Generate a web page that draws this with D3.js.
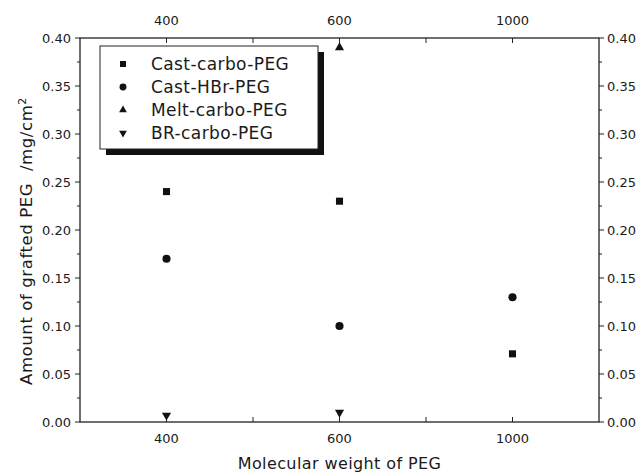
<!DOCTYPE html>
<html>
<head>
<meta charset="utf-8">
<script src="https://cdn.jsdelivr.net/npm/d3@7"></script>
<style>
body { margin: 0; background: #fff; }
text { font-family: "DejaVu Sans", "Liberation Sans", sans-serif; fill: #1a1a1a; }
</style>
</head>
<body>
<div id="chart"></div>
<script>
var categories = ["400", "600", "1000"];
var castCarbo = [0.24, 0.23, 0.071];
var castHBr = [0.17, 0.10, 0.13];
var meltCarbo = [null, 0.39, null];
var brCarbo = [0.007, 0.01, null];
var yTicks = [0, 0.05, 0.10, 0.15, 0.20, 0.25, 0.30, 0.35, 0.40];

var series = [
  {name: "Cast-carbo-PEG", values: castCarbo, sym: d3.symbolSquare, size: 50, lsize: 36, rot: 0},
  {name: "Cast-HBr-PEG", values: castHBr, sym: d3.symbolCircle, size: 52, lsize: 38, rot: 0},
  {name: "Melt-carbo-PEG", values: meltCarbo, sym: d3.symbolTriangle, size: 36, lsize: 26, rot: 0},
  {name: "BR-carbo-PEG", values: brCarbo, sym: d3.symbolTriangle, size: 36, lsize: 26, rot: 180}
];

var W = 640, H = 474;
var margin = {top: 38, right: 41, bottom: 52, left: 80},
width = W - margin.left - margin.right,
height = H - margin.top - margin.bottom;

var svg = d3.select("#chart")
  .append("svg")
  .attr("width", W)
  .attr("height", H)
  .append("g")
  .attr("transform", "translate(" + margin.left + "," + margin.top + ")");

var x = d3.scalePoint()
  .domain(categories)
  .range([0, width])
  .padding(0.5);

var y = d3.scaleLinear()
  .domain([0, 0.4])
  .range([height, 0]);

// minor positions halfway between categories
var step = x.step();
var xMinor = [x(categories[0]) + step / 2, x(categories[1]) + step / 2];
var yMinor = yTicks.slice(0, -1).map(function(d) { return d + 0.025; });

// frame
svg.append("rect")
  .attr("width", width)
  .attr("height", height)
  .attr("fill", "none")
  .attr("stroke", "#222")
  .attr("stroke-width", 1.3);

// x ticks (inward, top and bottom)
var xt = categories.map(function(c) { return x(c); }).concat(xMinor);
xt.forEach(function(px) {
  svg.append("line").attr("x1", px).attr("x2", px).attr("y1", height).attr("y2", height - 5)
    .attr("stroke", "#222");
  svg.append("line").attr("x1", px).attr("x2", px).attr("y1", 0).attr("y2", 5)
    .attr("stroke", "#222");
});
categories.forEach(function(c) {
  svg.append("text").attr("x", x(c)).attr("y", height + 21)
    .attr("text-anchor", "middle").style("font-size", "13px").text(c);
  svg.append("text").attr("x", x(c)).attr("y", -13)
    .attr("text-anchor", "middle").style("font-size", "13px").text(c);
});

// y ticks (outward, left and right)
yTicks.forEach(function(v) {
  svg.append("line").attr("x1", 0).attr("x2", -5).attr("y1", y(v)).attr("y2", y(v)).attr("stroke", "#222");
  svg.append("line").attr("x1", width).attr("x2", width + 5).attr("y1", y(v)).attr("y2", y(v)).attr("stroke", "#222");
  svg.append("text").attr("x", -9).attr("y", y(v)).attr("dy", "0.35em")
    .attr("text-anchor", "end").style("font-size", "13px").text(d3.format(".2f")(v));
  svg.append("text").attr("x", width + 8).attr("y", y(v)).attr("dy", "0.35em")
    .attr("text-anchor", "start").style("font-size", "13px").text(d3.format(".2f")(v));
});
yMinor.forEach(function(v) {
  svg.append("line").attr("x1", 0).attr("x2", -3).attr("y1", y(v)).attr("y2", y(v)).attr("stroke", "#222");
  svg.append("line").attr("x1", width).attr("x2", width + 3).attr("y1", y(v)).attr("y2", y(v)).attr("stroke", "#222");
});

// axis titles
svg.append("text")
  .attr("x", width / 2)
  .attr("y", height + 47)
  .attr("text-anchor", "middle")
  .style("font-size", "16px")
  .style("letter-spacing", "0.4px")
  .text("Molecular weight of PEG");

var yt = svg.append("text")
  .attr("transform", "translate(-48," + (height / 2 + 11) + ") rotate(-90)")
  .attr("text-anchor", "middle")
  .style("font-size", "16.5px")
  .style("letter-spacing", "0.6px");
yt.append("tspan").text("Amount of grafted PEG \u00a0/mg/cm");
yt.append("tspan").attr("dy", "-0.55em").style("font-size", "11px").text("2");

// points
series.forEach(function(s) {
  var pts = s.values.map(function(v, i) { return {c: categories[i], v: v}; })
    .filter(function(d) { return d.v !== null; });
  svg.selectAll(null)
    .data(pts)
    .enter()
    .append("path")
    .attr("d", d3.symbol().type(s.sym).size(s.size))
    .attr("transform", function(d) {
      return "translate(" + x(d.c) + "," + y(d.v) + ") rotate(" + s.rot + ")";
    })
    .attr("fill", "#111");
});

// legend with drop shadow
var lg = svg.append("g").attr("transform", "translate(20,8)");
var lw = 218, lh = 103;
lg.append("rect").attr("x", 6).attr("y", 6).attr("width", lw).attr("height", lh).attr("fill", "#111");
lg.append("rect").attr("width", lw).attr("height", lh).attr("fill", "#fff").attr("stroke", "#222");
series.forEach(function(s, i) {
  var ry = 18 + i * 23;
  lg.append("path")
    .attr("d", d3.symbol().type(s.sym).size(s.lsize))
    .attr("transform", "translate(23," + ry + ") rotate(" + s.rot + ")")
    .attr("fill", "#111");
  lg.append("text").attr("x", 51).attr("y", ry).attr("dy", "0.36em")
    .style("font-size", "17px").style("letter-spacing", "0.4px").text(s.name);
});
</script>
</body>
</html>
